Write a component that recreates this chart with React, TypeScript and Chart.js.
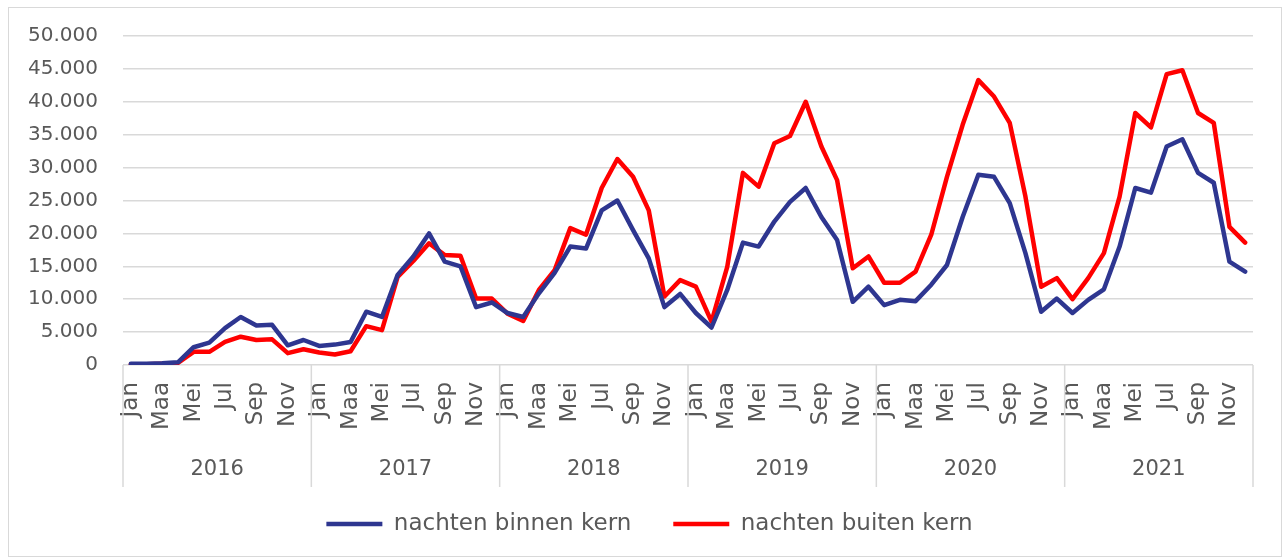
import React, { useEffect, useRef } from 'react';
import { Chart, registerables } from 'chart.js';

Chart.register(...registerables);

const years = ['2016', '2017', '2018', '2019', '2020', '2021'];
const months = ['Jan', 'Feb', 'Maa', 'Apr', 'Mei', 'Jun', 'Jul', 'Aug', 'Sep', 'Okt', 'Nov', 'Dec'];

const binnen2016 = [200, 200, 250, 400, 2700, 3400, 5600, 7300, 6000, 6100, 3000, 3800];
const binnen2017 = [2900, 3100, 3500, 8100, 7300, 13700, 16500, 20000, 15700, 15000, 8800, 9500];
const binnen2018 = [7900, 7300, 10900, 14000, 18000, 17700, 23500, 25000, 20500, 16200, 8800, 10800];
const binnen2019 = [7900, 5700, 11400, 18600, 18000, 21800, 24800, 26900, 22500, 19000, 9600, 11900];
const binnen2020 = [9100, 9900, 9700, 12200, 15200, 22500, 28900, 28600, 24600, 17000, 8100, 10100];
const binnen2021 = [7900, 9900, 11500, 18000, 26900, 26200, 33200, 34300, 29200, 27700, 15700, 14200];

const buiten2016 = [100, 100, 200, 300, 2000, 2000, 3500, 4300, 3800, 3900, 1800, 2400];
const buiten2017 = [1900, 1600, 2100, 5900, 5300, 13400, 15800, 18500, 16700, 16600, 10100, 10100];
const buiten2018 = [7800, 6700, 11400, 14400, 20800, 19800, 26900, 31300, 28600, 23500, 10400, 12900];
const buiten2019 = [11900, 6600, 14900, 29200, 27100, 33700, 34800, 40000, 33200, 28100, 14700, 16500];
const buiten2020 = [12500, 12500, 14200, 19800, 28600, 36500, 43300, 40800, 36800, 25600, 11900, 13200];
const buiten2021 = [10000, 13200, 17000, 25600, 38300, 36100, 44200, 44800, 38300, 36800, 21000, 18600];

const binnen = [...binnen2016, ...binnen2017, ...binnen2018, ...binnen2019, ...binnen2020, ...binnen2021];
const buiten = [...buiten2016, ...buiten2017, ...buiten2018, ...buiten2019, ...buiten2020, ...buiten2021];

const labels = years.flatMap(() => months);

const FONT = "'DejaVu Sans', sans-serif";
const TEXT = '#595959';
const GRID = '#d9d9d9';

const fmt = (v: number) => String(v).replace(/\B(?=(\d{3})+(?!\d))/g, '.');

const yearPlugin = {
  id: 'yearGroups',
  afterDraw(chart: any) {
    const x = chart.scales.x;
    const ctx = chart.ctx;
    const top = chart.chartArea.bottom;
    ctx.save();
    ctx.strokeStyle = GRID;
    ctx.lineWidth = 1.5;
    for (let k = 0; k <= years.length; k++) {
      const px = x.getPixelForValue(k * 12 - 0.5);
      ctx.beginPath();
      ctx.moveTo(px, top);
      ctx.lineTo(px, top + 122);
      ctx.stroke();
    }
    ctx.fillStyle = TEXT;
    ctx.font = `21px ${FONT}`;
    ctx.textAlign = 'center';
    ctx.textBaseline = 'middle';
    years.forEach((y, k) => {
      const a = x.getPixelForValue(k * 12 - 0.5);
      const b = x.getPixelForValue(k * 12 + 11.5);
      ctx.fillText(y, (a + b) / 2, top + 105);
    });
    ctx.restore();
  },
};

export default function App() {
  const ref = useRef<HTMLCanvasElement | null>(null);
  useEffect(() => {
    if (!ref.current) return;
    const chart = new Chart(ref.current, {
      type: 'line',
      data: {
        labels,
        datasets: [
          {
            label: 'nachten binnen kern',
            data: binnen,
            borderColor: '#2E3690',
            backgroundColor: '#2E3690',
            borderWidth: 4.5,
            pointRadius: 0,
            borderJoinStyle: 'round',
            borderCapStyle: 'round',
            tension: 0,
          },
          {
            label: 'nachten buiten kern',
            data: buiten,
            borderColor: '#FF0000',
            backgroundColor: '#FF0000',
            borderWidth: 4.5,
            pointRadius: 0,
            borderJoinStyle: 'round',
            borderCapStyle: 'round',
            tension: 0,
          },
        ],
      },
      options: {
        animation: false,
        responsive: true,
        maintainAspectRatio: false,
        layout: { padding: { left: 9, right: 0, top: 28, bottom: 10.5 } },
        plugins: {
          tooltip: { enabled: false },
          legend: {
            position: 'bottom',
            labels: {
              usePointStyle: true,
              pointStyle: 'line',
              pointStyleWidth: 56,
              boxHeight: 5,
              padding: 42,
              color: TEXT,
              font: { family: FONT, size: 23 },
            },
          },
        },
        scales: {
          x: {
            type: 'category',
            offset: true,
            grid: { display: false, drawTicks: false, offset: true },
            border: { display: false },
            ticks: {
              autoSkip: false,
              minRotation: 90,
              maxRotation: 90,
              padding: 17,
              color: TEXT,
              font: { family: FONT, size: 23 },
              callback: (_v: any, i: number) => (i % 2 === 0 ? labels[i] : ''),
            },
            afterFit: (s: any) => {
              s.height = 105.5;
              s.paddingLeft = 0;
              s.paddingRight = 0;
            },
          },
          y: {
            type: 'linear',
            position: 'left',
            min: 0,
            max: 50000,
            grid: { color: GRID, lineWidth: 1.5, drawTicks: false },
            border: { display: false },
            ticks: {
              stepSize: 5000,
              padding: 25,
              color: TEXT,
              font: { family: FONT, size: 20 },
              callback: (v: any) => fmt(Number(v)),
            },
            afterFit: (s: any) => {
              s.width = 105;
              s.paddingTop = 0;
              s.paddingBottom = 0;
            },
          },
          y2: {
            type: 'linear',
            position: 'right',
            display: true,
            grid: { display: false, drawTicks: false },
            border: { display: false },
            ticks: { display: false },
            afterFit: (s: any) => {
              s.width = 28;
              s.paddingTop = 0;
              s.paddingBottom = 0;
            },
          },
        },
      },
      plugins: [yearPlugin],
    });
    return () => chart.destroy();
  }, []);

  return (
    <div
      style={{
        position: 'absolute',
        left: 8,
        top: 7,
        width: 1274,
        height: 550,
        boxSizing: 'border-box',
        border: `1px solid ${GRID}`,
        background: '#fff',
      }}
    >
      <div style={{ position: 'relative', width: '100%', height: '100%' }}>
        <canvas ref={ref} />
      </div>
    </div>
  );
}
